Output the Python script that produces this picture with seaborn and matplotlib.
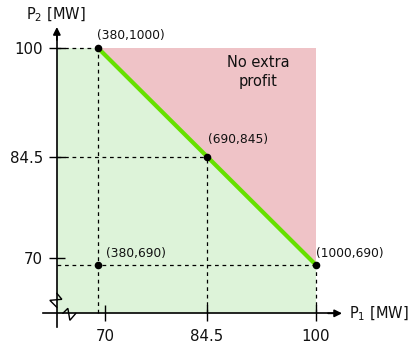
import matplotlib
matplotlib.use("Agg")
import matplotlib.pyplot as plt
import seaborn as sns
import pandas as pd

# data
p1_points = [380, 690, 380, 1000]
p2_points = [1000, 845, 690, 690]
point_labels = ["(380,1000)", "(690,845)", "(380,690)", "(1000,690)"]
line_p1 = [380, 1000]
line_p2 = [1000, 690]
x_ticks = [400, 690, 1000]
x_tick_labels = ["70", "84.5", "100"]
y_ticks = [700, 845, 1000]
y_tick_labels = ["70", "84.5", "100"]

sns.set_theme(style="white")
plt.rcParams['font.family'] = ['DejaVu Sans']

fig = plt.figure(figsize=(4.18, 3.43), dpi=100)
ax = fig.add_axes([0, 0, 1, 1])
ax.set_xlim(101.3, 1290)
ax.set_ylim(578.6, 1068.6)
ax.set_facecolor("none")

dxp = 1 / 0.3516   # data units per pixel (x)
dyp = 1 / 0.70     # data units per pixel (y)
x0, y0 = 263, 621  # axis origin

# regions
ax.fill([x0, x0, 380, 1000, 1000], [y0, 1000, 1000, 690, y0],
        color="#ddf3d9", lw=0, zorder=0)
ax.fill([380, 1000, 1000], [1000, 1000, 690], color="#efc3c7", lw=0, zorder=0)

# dashed guides
dk = dict(color="black", lw=0.9, ls=(0, (3, 3)), zorder=2)
ax.plot([x0, 380], [1000, 1000], **dk)
ax.plot([380, 380], [y0, 1000], **dk)
ax.plot([x0, 690], [845, 845], **dk)
ax.plot([690, 690], [y0, 845], **dk)
ax.plot([x0, 1000], [690, 690], **dk)
ax.plot([1000, 1000], [y0, 690], **dk)

# frontier line
sns.lineplot(x=line_p1, y=line_p2, color="#66e000", lw=3, ax=ax, zorder=3)

# points
df = pd.DataFrame({"p1": p1_points, "p2": p2_points})
sns.scatterplot(data=df, x="p1", y="p2", color="black", s=30, ax=ax,
                zorder=5, edgecolor="black", linewidth=0)

offsets = [(-1, 6), (1, 11), (8, 5), (0, 5)]
for (px, py), lab, (ox, oy) in zip(zip(p1_points, p2_points), point_labels, offsets):
    ax.annotate(lab, (px, py), xytext=(ox, oy), textcoords="offset pixels",
                ha="left", va="bottom", fontsize=8.8, color="#111111", zorder=6)

ax.text(380 + (258 - 98) * dxp, 1000 - (72 - 48) * dyp, "No extra\nprofit",
        ha="center", va="center", fontsize=10.5, color="#111111", linespacing=1.3)

# spines as axes
for s in ["top", "right"]:
    ax.spines[s].set_visible(False)
ax.spines["left"].set_position(("data", x0))
ax.spines["bottom"].set_position(("data", y0))
ax.spines["left"].set_bounds(y0 - 14 * dyp, 1000 + 12 * dyp)
ax.spines["bottom"].set_bounds(x0 - 14 * dxp, 380 + 236 * dxp)
for s in ["left", "bottom"]:
    ax.spines[s].set_color("black")
    ax.spines[s].set_linewidth(1.2)
    ax.spines[s].set_zorder(4)

ax.set_xticks(x_ticks)
ax.set_xticklabels(x_tick_labels)
ax.set_yticks(y_ticks)
ax.set_yticklabels(y_tick_labels)
ax.tick_params(axis="both", which="both", direction="inout", length=12,
               width=1, color="black", labelsize=10.8, labelcolor="#111111",
               bottom=True, left=True)
ax.tick_params(axis="x", pad=5.5)
ax.tick_params(axis="y", pad=4)
ax.set_xlabel("")
ax.set_ylabel("")

# arrows
ax.annotate("", xy=(380 + 244 * dxp, y0), xytext=(380 + 230 * dxp, y0),
            arrowprops=dict(arrowstyle="-|>", color="black", lw=1.2,
                            mutation_scale=11, shrinkA=0, shrinkB=0))
ax.annotate("", xy=(x0, 1000 + 21 * dyp), xytext=(x0, 1000 + 8 * dyp),
            arrowprops=dict(arrowstyle="-|>", color="black", lw=1.2,
                            mutation_scale=11, shrinkA=0, shrinkB=0))

ax.text(380 + 251 * dxp, y0, "P$_1$ [MW]", ha="left", va="center",
        fontsize=10.5, color="#111111")
ax.text(x0 - 1 * dxp, 1000 + 33 * dyp, "P$_2$ [MW]", ha="center",
        va="center", fontsize=10.5, color="#111111")

# axis break marks
bk = dict(color="black", lw=1.0, zorder=6, solid_joinstyle="miter")
ax.plot([x0, x0 + 5 * dxp, x0 - 7 * dxp, x0],
        [y0 + 20 * dyp, y0 + 14 * dyp, y0 + 13 * dyp, y0 + 6 * dyp], **bk)
ax.plot([x0 + 6 * dxp, x0 + 11 * dxp, x0 + 13 * dxp, x0 + 19 * dxp],
        [y0, y0 + 5 * dyp, y0 - 7 * dyp, y0], **bk)

fig.savefig("out.png", dpi=100)
